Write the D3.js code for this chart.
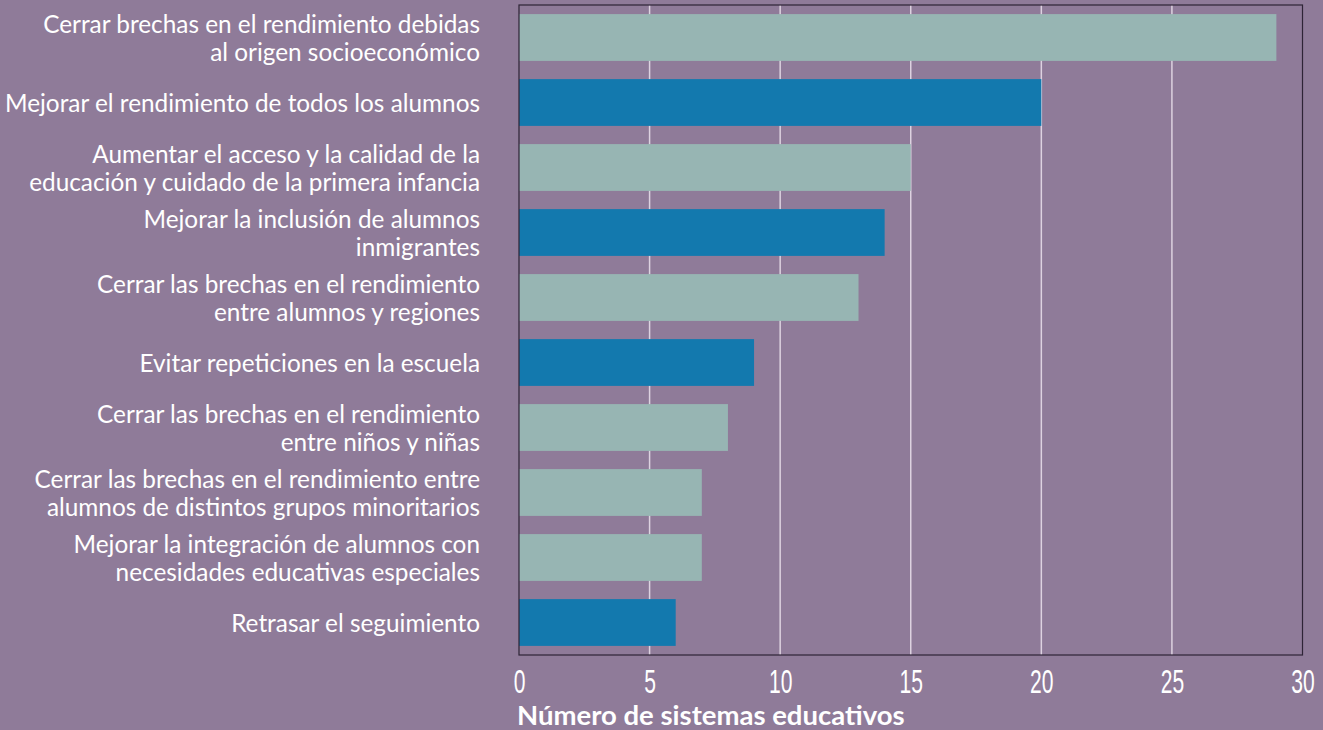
<!DOCTYPE html>
<html>
<head>
<meta charset="utf-8">
<script src="https://d3js.org/d3.v7.min.js"></script>
<style>
  body { margin: 0; background: #8f7b99; }
  svg { display: block; }
</style>
</head>
<body>
<div id="chart"></div>
<script>
const categories = [
  ["Cerrar brechas en el rendimiento debidas", "al origen socioeconómico"],
  ["Mejorar el rendimiento de todos los alumnos"],
  ["Aumentar el acceso y la calidad de la", "educación y cuidado de la primera infancia"],
  ["Mejorar la inclusión de alumnos", "inmigrantes"],
  ["Cerrar las brechas en el rendimiento", "entre alumnos y regiones"],
  ["Evitar repeticiones en la escuela"],
  ["Cerrar las brechas en el rendimiento", "entre niños y niñas"],
  ["Cerrar las brechas en el rendimiento entre", "alumnos de distintos grupos minoritarios"],
  ["Mejorar la integración de alumnos con", "necesidades educativas especiales"],
  ["Retrasar el seguimiento"]
]
const values = [29, 20, 15, 14, 13, 9, 8, 7, 7, 6]
const barColors = ["#97b5b3", "#1379ae", "#97b5b3", "#1379ae", "#97b5b3", "#1379ae", "#97b5b3", "#97b5b3", "#97b5b3", "#1379ae"]
const xTicks = [0, 5, 10, 15, 20, 25, 30]
const xTitle = "Número de sistemas educativos"

const W = 1323, H = 730
const margin = {top: 5, right: 20, bottom: 75, left: 519}
const width = 1302.5 - margin.left, height = 655 - margin.top

const svg = d3.select("#chart").append("svg")
    .attr("width", W).attr("height", H)

svg.append("rect").attr("width", W).attr("height", H).attr("fill", "#8f7b99")

const g = svg.append("g").attr("transform", `translate(${margin.left},${margin.top})`)

const x = d3.scaleLinear().domain([0, 30]).range([0, width])
const y = d3.scaleBand().domain(d3.range(values.length)).range([0, height]).paddingInner(0.28).paddingOuter(0.14)

// gridlines
g.selectAll(".grid").data(xTicks.filter(d => d > 0 && d < 30)).enter().append("line")
    .attr("x1", d => x(d)).attr("x2", d => x(d))
    .attr("y1", 0).attr("y2", height)
    .attr("stroke", "#ddd2e0").attr("stroke-width", 1.5)

// bars
g.selectAll(".bar").data(values).enter().append("rect")
    .attr("x", 0)
    .attr("y", (d, i) => y(i))
    .attr("width", d => x(d))
    .attr("height", y.bandwidth())
    .attr("fill", (d, i) => barColors[i])

// frame
g.append("rect").attr("width", width).attr("height", height)
    .attr("fill", "none").attr("stroke", "#2e2436").attr("stroke-width", 1.2)

// x axis (condensed digits via horizontal squeeze)
const xAxis = g.append("g").attr("transform", `translate(0,${height})`)
    .call(d3.axisBottom(x).tickValues(xTicks).tickSize(0).tickPadding(0))
xAxis.select(".domain").remove()
xAxis.selectAll("text")
    .attr("fill", "#fff")
    .attr("y", 38)
    .attr("dy", null)
    .attr("transform", "scale(0.62,1)")
    .style("font-family", "'Liberation Sans', Arial, sans-serif")
    .style("font-size", "34px")

// x title
svg.append("text")
    .attr("x", 517).attr("y", 725)
    .attr("fill", "#fff")
    .style("font-family", "Lato, 'Open Sans', sans-serif")
    .style("font-weight", "bold")
    .style("font-size", "27.5px")
    .text(xTitle)

// category labels, slightly narrowed to match the condensed face
const lineH = 28
const labels = svg.append("g")
    .attr("transform", "translate(480,0) scale(0.955,1)")
categories.forEach((lines, i) => {
  const cy = margin.top + y(i) + y.bandwidth() / 2
  const t = labels.append("text")
      .attr("text-anchor", "end")
      .attr("fill", "#fff")
      .style("font-family", "Lato, 'Noto Sans', sans-serif")
      .style("font-size", "25.5px")
  lines.forEach((ln, j) => {
    t.append("tspan")
        .attr("x", 0)
        .attr("y", cy + (j - (lines.length - 1) / 2) * lineH + 9.5)
        .text(ln)
  })
})
</script>
</body>
</html>
